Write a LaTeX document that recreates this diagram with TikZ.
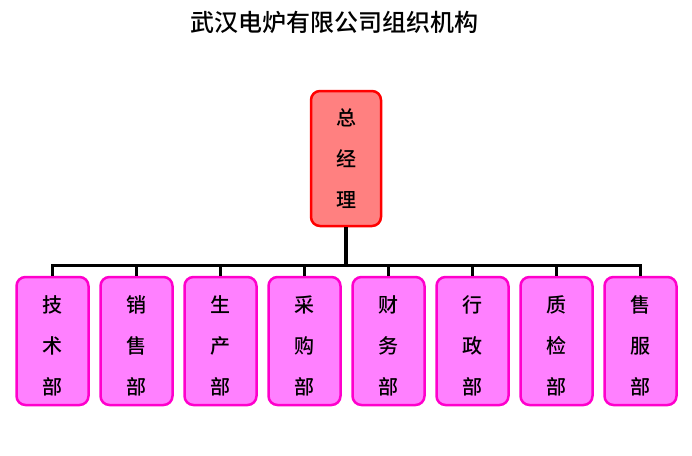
\documentclass[tikz,border=0pt]{standalone}
\usepackage{fontspec}
\setmainfont{Noto Sans CJK SC}[BoldFont={Noto Sans CJK SC Medium}]
\usepackage{xcolor}
\definecolor{headfill}{RGB}{255,128,128}
\definecolor{deptfill}{RGB}{255,128,255}
\definecolor{deptline}{RGB}{255,0,204}
\tikzset{
  headbox/.style={draw=red, fill=headfill, line width=2.5pt, rounded corners=9pt,
    minimum width=70pt, minimum height=135pt, align=center,
    font=\fontsize{20}{41}\selectfont\bfseries},
  deptbox/.style={draw=deptline, fill=deptfill, line width=2.5pt, rounded corners=9pt,
    minimum width=72pt, minimum height=128pt, align=center,
    font=\fontsize{20}{41}\selectfont\bfseries},
  bus/.style={line width=3pt}
}

\begin{document}
\begin{tikzpicture}[x=1pt, y=-1pt]
    \useasboundingbox (0,0) rectangle (692,455);
    \node (title) at (334,22) {\fontsize{24}{28}\selectfont\bfseries 武汉电炉有限公司组织机构};
    \node[headbox] (gm) at (346,158.5) {总\\经\\理};
    \coordinate (bus) at (346,265);
    \foreach \i/\name in {1/技\\术\\部, 2/销\\售\\部, 3/生\\产\\部, 4/采\\购\\部,
                          5/财\\务\\部, 6/行\\政\\部, 7/质\\检\\部, 8/售\\服\\部} {
        \node[deptbox] (d\i) at ({52.5+84*(\i-1)},341) {\rule{0pt}{27pt}\name};
        \draw[bus] (bus) -| (d\i.north);
    }
    \draw[line width=4pt] (gm.south) -- (bus);
\end{tikzpicture}
\end{document}
